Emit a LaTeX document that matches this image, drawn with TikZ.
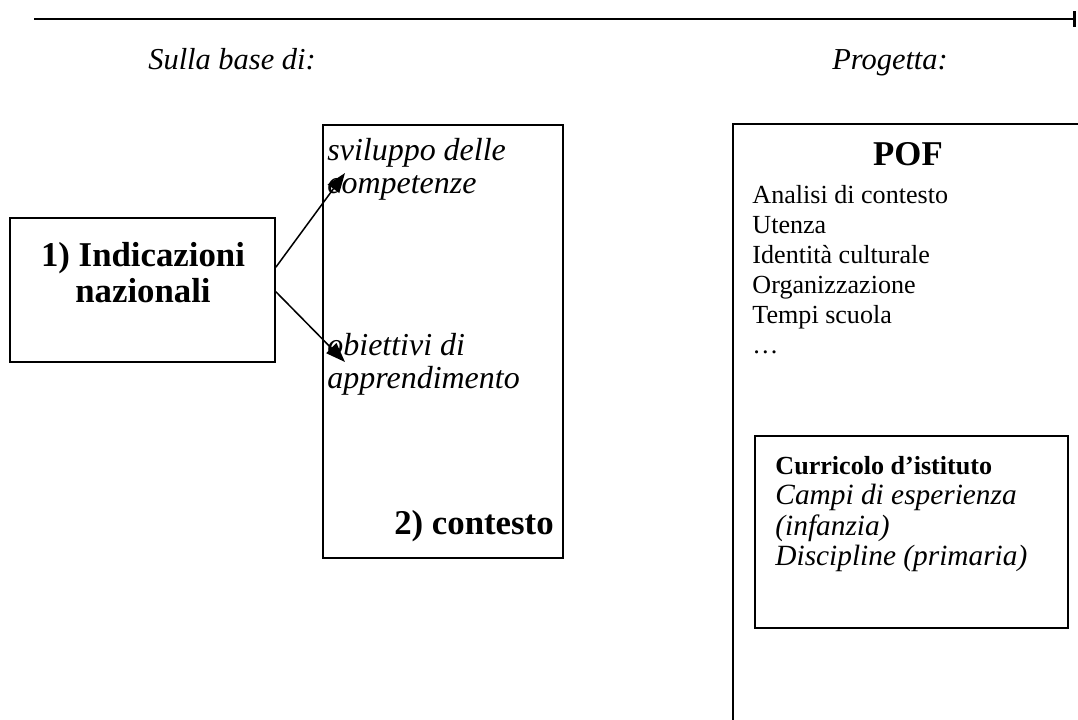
\documentclass[tikz,border=0pt]{standalone}
\usepackage{fontspec}
\setmainfont{Liberation Serif}
\usetikzlibrary{arrows.meta}

\begin{document}
\begin{tikzpicture}[x=0.46pt,y=-0.46pt,
  box/.style={draw,line width=0.8pt,inner sep=0pt},
  hdr/.style={font=\fontsize{14}{16}\selectfont\itshape,anchor=base},
  big/.style={font=\fontsize{16}{16.5}\selectfont\bfseries,align=center},
  txt/.style={inner sep=0pt,align=left,anchor=north west},
  link/.style={line width=0.7pt,-{Triangle[length=9pt,width=6.5pt]}}]
  \useasboundingbox (0,0) rectangle (1078,719);
  % time axis on top
  \coordinate (axisL) at (34,19);
  \coordinate (axisR) at (1076,19);
  \draw[line width=1.1pt,-{Bar[width=7pt,line width=1.2pt]}] (axisL) -- (axisR);
  \node[hdr] (base) at (232,69) {Sulla base di:};
  \node[hdr] (prog) at (890,69) {Progetta:};
  % left part
  \node[box,minimum width=121.9pt,minimum height=66.2pt] (ind) at (142.5,290) {};
  \node[big] (indlbl) at (143,273) {1) Indicazioni\\nazionali};
  \node[box,minimum width=110.4pt,minimum height=199.2pt] (ctx) at (443,341.5) {};
  \node[txt,font=\fontsize{14.7}{15.2}\selectfont\itshape] (svil) at (327,138) {sviluppo delle\\competenze};
  \node[txt,font=\fontsize{14.7}{15.2}\selectfont\itshape] (obj) at (327,333) {obiettivi di\\apprendimento};
  \node[big] (ctxlbl) at (474,526) {2) contesto};
  \coordinate (tipA) at (345,173);
  \coordinate (tipB) at (345,362);
  \draw[link] ([yshift=10.5pt]ind.east) -- (tipA);
  \draw[link] ([yshift=-0.8pt]ind.east) -- (tipB);
  % right part, box runs off the page
  \draw[line width=0.8pt] (733,725) |- (1085,124);
  \node[big] (pof) at (908,154) {POF};
  \node[txt,font=\fontsize{12}{13.8}\selectfont] (pofl) at (752,185)
    {Analisi di contesto\\Utenza\\Identità culturale\\Organizzazione\\Tempi scuola\\…};
  \node[box,minimum width=144pt,minimum height=88.3pt] (cur) at (911.5,532) {};
  \node[txt,font=\fontsize{13.5}{14}\selectfont] (curl) at (775,456)
    {{\fontsize{12}{14}\selectfont\bfseries Curricolo d’istituto}\\
     \textit{Campi di esperienza}\\\textit{(infanzia)}\\\textit{Discipline (primaria)}};
\end{tikzpicture}
\end{document}
